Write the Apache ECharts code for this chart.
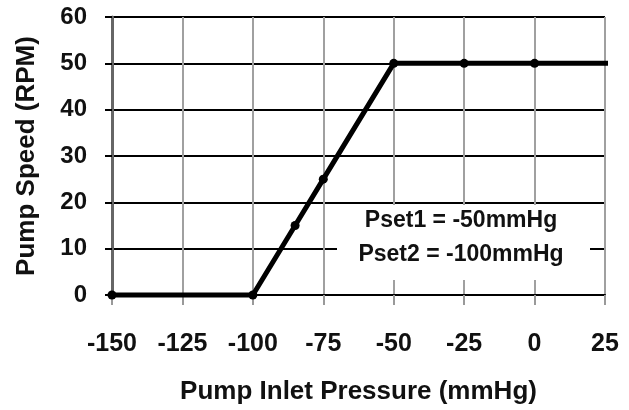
<!DOCTYPE html>
<html>
<head>
<meta charset="utf-8">
<script src="https://cdn.jsdelivr.net/npm/echarts@6/dist/echarts.min.js"></script>
<style>
  html, body { margin: 0; padding: 0; background: #fff; }
  #chart { width: 629px; height: 410px; }
</style>
</head>
<body>
<div id="chart"></div>
<script>
// pump speed vs inlet pressure
const pressure = [-150, -100, -85, -75, -50, -25, 0, 30];
const speed = [0, 0, 15, 25, 50, 50, 50, 50];
const markerOn = [true, true, true, true, true, true, true, false];
const noteLines = ['Pset1 = -50mmHg', 'Pset2 = -100mmHg'];

const FONT = '"Liberation Sans", Arial, sans-serif';

const chart = echarts.init( document.getElementById( 'chart' ) );

chart.setOption( {
  animation: false,
  backgroundColor: '#fff',
  grid: { left: 112, right: 24, top: 17, bottom: 115, outerBoundsMode: 'none' },
  xAxis: {
    type: 'value',
    min: -150,
    max: 25,
    interval: 25,
    name: 'Pump Inlet Pressure (mmHg)',
    nameLocation: 'middle',
    nameGap: 84,
    nameTextStyle: { fontFamily: FONT, fontWeight: 'bold', fontSize: 26, color: '#111' },
    axisLine: { show: true, onZero: false, lineStyle: { color: '#000', width: 2 } },
    axisTick: { show: true, length: 10, lineStyle: { color: '#999', width: 2 } },
    axisLabel: { margin: 37, fontFamily: FONT, fontWeight: 'bold', fontSize: 25, color: '#111' },
    splitLine: { show: true, lineStyle: { color: '#a0a0a0', width: 2 } }
  },
  yAxis: {
    type: 'value',
    min: 0,
    max: 60,
    interval: 10,
    name: 'Pump Speed (RPM)',
    nameLocation: 'middle',
    nameGap: 72,
    nameTextStyle: { fontFamily: FONT, fontWeight: 'bold', fontSize: 26, color: '#111' },
    axisLine: { show: true, onZero: false, lineStyle: { color: '#666', width: 3 } },
    axisTick: { show: true, length: 7, lineStyle: { color: '#000', width: 2 } },
    axisLabel: { margin: 25, fontFamily: FONT, fontWeight: 'bold', fontSize: 24, color: '#111' },
    splitLine: { show: true, lineStyle: { color: '#000', width: 2 } }
  },
  graphic: [
    {
      type: 'rect',
      shape: { x: 337, y: 205, width: 253, height: 75 },
      style: { fill: '#fff' },
      z: 5
    },
    {
      type: 'text',
      x: 461,
      y: 238,
      style: {
        text: noteLines.join( '\n' ),
        align: 'center',
        verticalAlign: 'middle',
        lineHeight: 34,
        font: 'bold 23px ' + FONT,
        fill: '#111'
      },
      z: 6
    }
  ],
  series: [
    {
      type: 'line',
      clip: false,
      data: pressure.map( ( p, i ) => ( {
        value: [p, speed[i]],
        symbol: markerOn[i] ? 'circle' : 'none'
      } ) ),
      symbolSize: 9,
      itemStyle: { color: '#000' },
      lineStyle: { color: '#000', width: 5 },
      z: 10
    }
  ]
} );
</script>
</body>
</html>
